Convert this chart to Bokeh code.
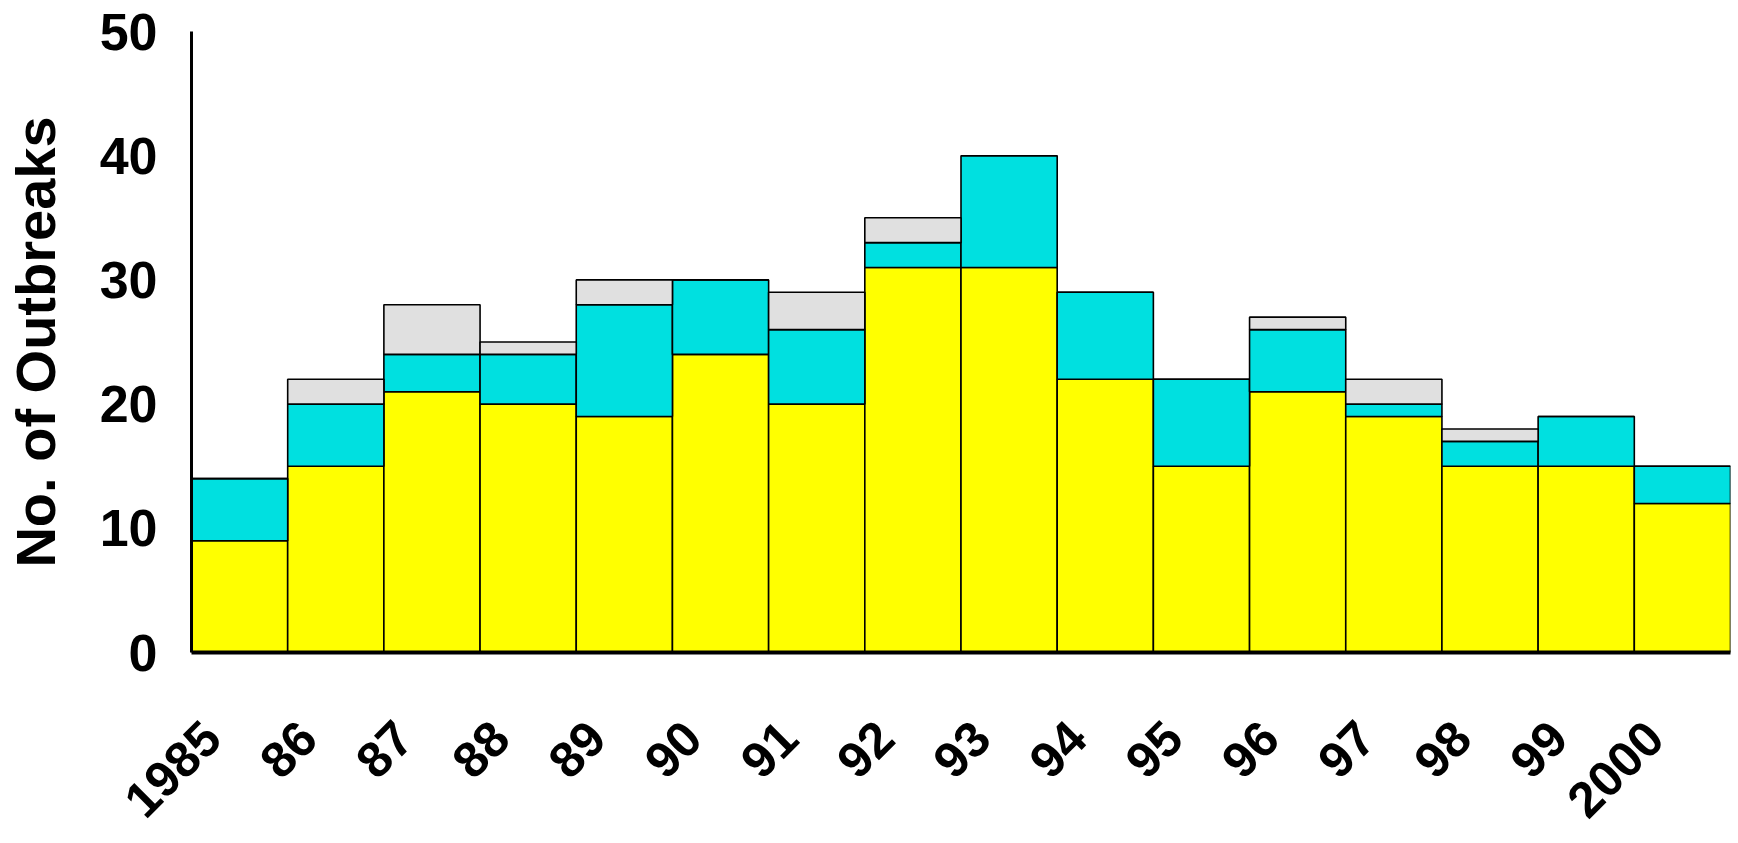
import math
from bokeh.plotting import figure
from bokeh.models import Range1d, FixedTicker, ColumnDataSource
from bokeh.embed import file_html
from bokeh.resources import INLINE

years = ["1985", "86", "87", "88", "89", "90", "91", "92", "93", "94",
         "95", "96", "97", "98", "99", "2000"]
yellow = [9, 15, 21, 20, 19, 24, 20, 31, 31, 22, 15, 21, 19, 15, 15, 12]
cyan = [5, 5, 3, 4, 9, 6, 6, 2, 9, 7, 7, 5, 1, 2, 4, 3]
gray = [0, 2, 4, 1, 2, 0, 3, 2, 0, 0, 0, 1, 2, 1, 0, 0]
y_ticks = [0, 10, 20, 30, 40, 50]

n = len(years)
xc = [i + 0.5 for i in range(n)]
src = ColumnDataSource(dict(x=xc, yellow=yellow, cyan=cyan, gray=gray))

p = figure(width=1738, height=843, output_backend="svg", toolbar_location=None,
           x_range=Range1d(0, n), y_range=Range1d(0, 50),
           min_border_left=190, min_border_right=8, min_border_top=31,
           min_border_bottom=191)
p.outline_line_color = None
p.xgrid.visible = False
p.ygrid.visible = False
p.background_fill_color = "white"

stack_names = ["yellow", "cyan", "gray"]
colors = ["#FFFF00", "#00E0E0", "#E0E0E0"]
p.vbar_stack(stack_names, x="x", width=1.0, source=src,
             fill_color=colors, line_color="black", line_width=1.6)

font = "Liberation Sans"
p.yaxis.ticker = FixedTicker(ticks=y_ticks)
p.yaxis.major_tick_line_color = None
p.yaxis.minor_tick_line_color = None
p.yaxis.major_tick_out = 0
p.yaxis.major_label_standoff = 34
p.yaxis.major_label_text_font = font
p.yaxis.major_label_text_font_style = "bold"
p.yaxis.major_label_text_font_size = "52px"
p.yaxis.major_label_text_color = "black"
p.yaxis.axis_line_width = 3
p.yaxis.axis_line_color = "black"
p.yaxis.axis_label = "No. of Outbreaks"
p.yaxis.axis_label_text_font = font
p.yaxis.axis_label_text_font_style = "bold"
p.yaxis.axis_label_text_font_size = "56px"
p.yaxis.axis_label_text_color = "black"
p.yaxis.axis_label_standoff = 30

tick_pos = [i + 0.21 for i in range(n)]
p.xaxis.ticker = FixedTicker(ticks=tick_pos)
p.xaxis.major_label_overrides = {t: y for t, y in zip(tick_pos, years)}
p.xaxis.major_label_orientation = math.pi / 4
p.xaxis.major_tick_line_color = None
p.xaxis.minor_tick_line_color = None
p.xaxis.major_tick_out = 0
p.xaxis.major_label_standoff = 77
p.xaxis.major_label_text_font = font
p.xaxis.major_label_text_font_style = "bold"
p.xaxis.major_label_text_font_size = "50px"
p.xaxis.major_label_text_color = "black"
p.xaxis.axis_line_width = 4
p.xaxis.axis_line_color = "black"

open("out.html", "w").write(file_html(p, INLINE))
